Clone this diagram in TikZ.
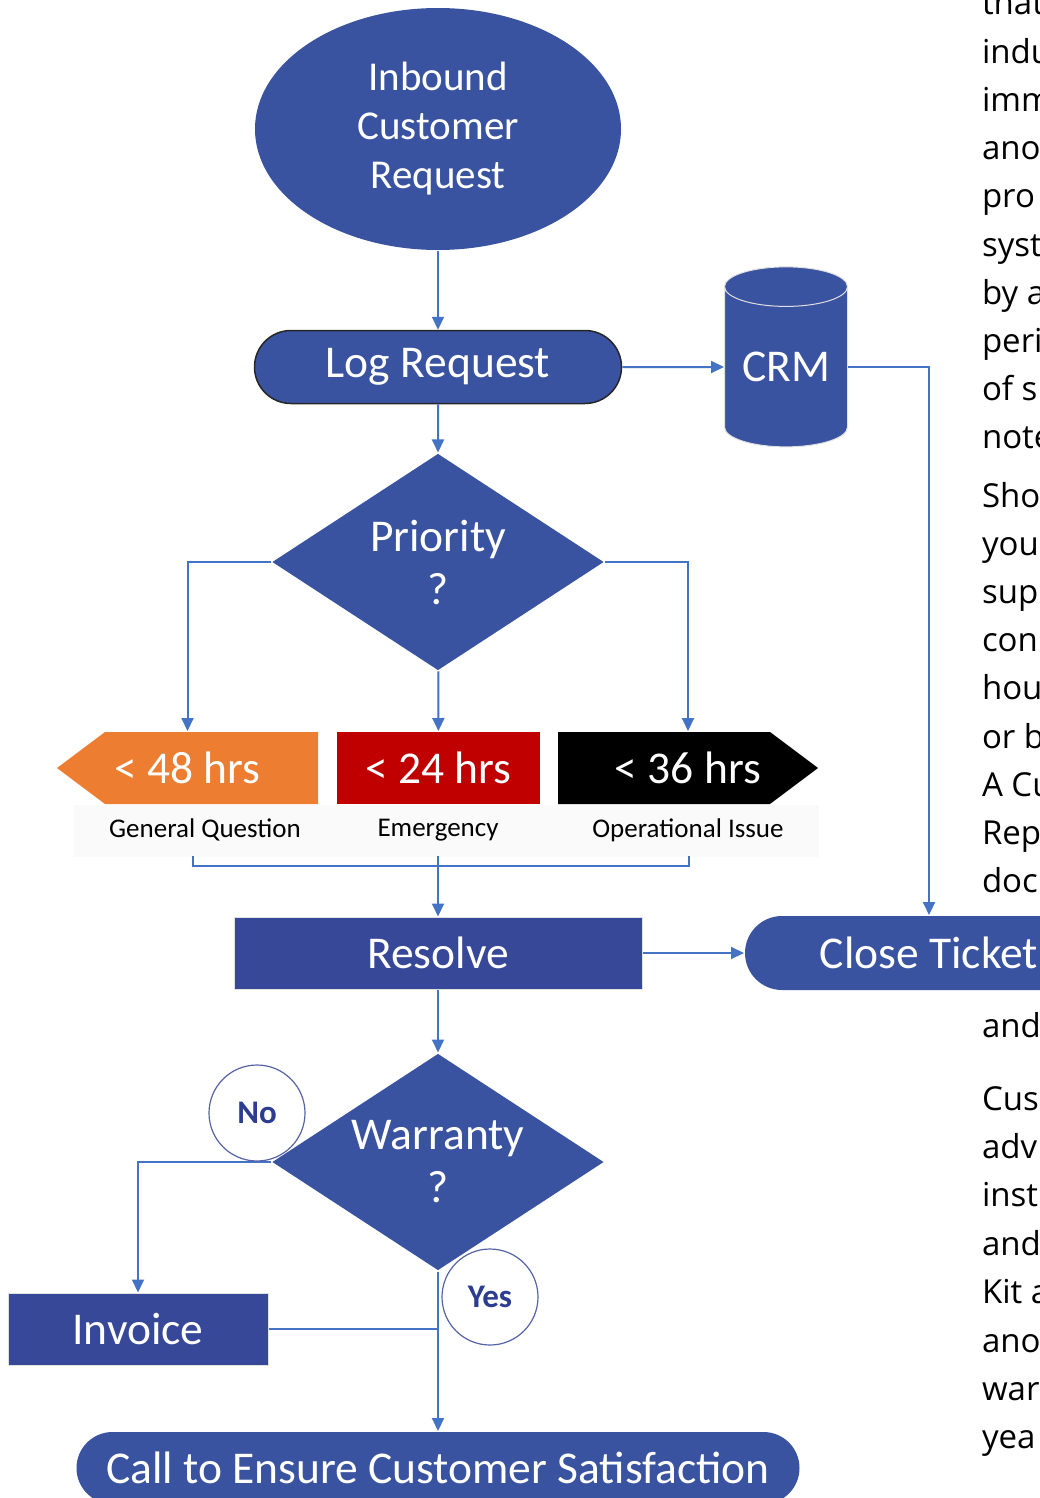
\documentclass[tikz,border=0pt]{standalone}
\usepackage{fontspec}
\setmainfont{Carlito}
\newfontfamily\sidefont{Open Sans}
\usepackage{tikz}
\usetikzlibrary{arrows.meta,shapes.geometric,shapes.misc}
\usepackage{xcolor}
\definecolor{flowblue}{RGB}{58,83,160}
\definecolor{boxblue}{RGB}{56,72,152}
\definecolor{linkblue}{RGB}{68,114,196}
\definecolor{tagorange}{RGB}{237,125,49}
\definecolor{tagred}{RGB}{192,0,0}
\definecolor{ynblue}{RGB}{44,60,145}

\begin{document}
\begin{tikzpicture}[x=1pt,y=-1pt,>={Triangle[length=13pt,width=12pt]},line width=2pt]
\tikzstyle{flow}=[fill=flowblue,text=white,inner sep=0pt,font=\fontsize{45.5}{53}\selectfont,align=center]
\tikzstyle{term}=[flow,rounded rectangle,minimum height=73pt]
\tikzstyle{proc}=[flow,rectangle,fill=boxblue,draw=black!12,line width=1pt,minimum height=72pt]
\tikzstyle{decide}=[flow,diamond,aspect=1.53,minimum width=332pt,minimum height=217pt]
\tikzstyle{tag}=[rectangle,inner sep=0pt,text=white,minimum height=72pt,font=\fontsize{45.5}{53}\selectfont]
\tikzstyle{tagleft}=[tag,path picture={\fill[tagorange] (path picture bounding box.west)
    -- ([xshift=48pt]path picture bounding box.north west) -- (path picture bounding box.north east)
    -- (path picture bounding box.south east) -- ([xshift=48pt]path picture bounding box.south west) -- cycle;}]
\tikzstyle{tagright}=[tag,path picture={\fill[black] (path picture bounding box.north west)
    -- ([xshift=-48pt]path picture bounding box.north east) -- (path picture bounding box.east)
    -- ([xshift=-48pt]path picture bounding box.south east) -- (path picture bounding box.south west) -- cycle;}]
\tikzstyle{cat}=[inner sep=0pt,font=\fontsize{27}{32}\selectfont]
\tikzstyle{yn}=[circle,draw=ynblue!80,line width=1.2pt,fill=white,minimum size=96pt,inner sep=0pt,text=ynblue,font=\fontsize{33}{40}\selectfont\bfseries]
\tikzstyle{link}=[draw=linkblue]
\tikzstyle{side}=[anchor=base west,inner sep=0pt,font=\sidefont\fontsize{33}{48}\selectfont]
  \useasboundingbox (0,0) rectangle (1040,1498);
  \clip (0,0) rectangle (1040,1498);
  % text of the page beside the chart
  \foreach \w [count=\i from 0] in {that,indu,imm,ano,pro,syst,by a,peri,of s,note}
    \node[side] (pa\i) at (981,15+48.2*\i) {\w};
  \foreach \w [count=\i from 0] in {Sho,you,sup,con,hou,or b,A Cu,Rep,doc}
    \node[side] (pb\i) at (981,507+48.2*\i) {\w};
  \node[side] (pc) at (981,1037) {and};
  \foreach \w [count=\i from 0] in {Cus,adv,inst,and,Kit a,ano,war,yea}
    \node[side] (pd\i) at (981,1110+48.4*\i) {\w};
  % chart
  \node[flow,ellipse,minimum width=366pt,minimum height=242pt,font=\fontsize{41}{49}\selectfont] (in-req) at (438,129) {Inbound\\Customer\\Request};
  \node[term,draw=black!85,line width=1.5pt,minimum width=367pt,below of=in-req,node distance=238pt] (log) {Log Request};
  \node[flow,cylinder,shape border rotate=90,aspect=0.45,draw=black!12,line width=1pt,minimum width=123pt,minimum height=180pt] (crm) at (786,367) {CRM};
  \node[decide,below of=log,node distance=195pt] (prio) {Priority\\?};
  \node[fill=black!2,minimum width=745pt,minimum height=52pt,inner sep=0pt] (cat-strip) at (446,831) {};
  \node[tagleft,minimum width=261pt] (lt48) at (187.5,768) {< 48 hrs};
  \node[tag,fill=tagred,minimum width=203pt] (lt24) at (438.5,768) {< 24 hrs};
  \node[tagright,minimum width=260pt] (lt36) at (688,768) {< 36 hrs};
  \node[cat] (gq) at (205,830) {General Question};
  \node[cat] (emg) at (438,830) {Emergency};
  \node[cat] (op) at (688,830) {Operational Issue};
  \coordinate (brk-l) at (193,856);
  \coordinate (brk-m) at (438,856);
  \coordinate (brk-r) at (689,856);
  \node[proc,minimum width=408pt] (resolve) at (438,953) {Resolve};
  \node[term,minimum width=368pt,minimum height=74pt] (close) at (929,953) {Close Ticket};
  \node[decide] (warr) at (438,1162) {Warranty\\?};
  \node[proc,minimum width=260pt] (invoice) at (138,1329) {Invoice};
  \node[term,minimum width=723pt,minimum height=72pt] (call) at (438,1468) {Call to Ensure Customer Satisfaction};
  % connectors
  \draw[link,->] (in-req) -- (log);
  \draw[link,->] (log) -- (crm);
  \draw[link,->] (crm) -| (close);
  \draw[link,->] (log) -- (prio);
  \draw[link,->] (prio) -| (lt48);
  \draw[link,->] (prio) -- (lt24);
  \draw[link,->] (prio) -| (lt36);
  \draw[link] (brk-l) -- ++(0,10) -| (brk-r);
  \draw[link,->] (brk-m) -- (resolve);
  \draw[link,->] (resolve) -- (close);
  \draw[link,->] (resolve) -- (warr);
  \draw[link,->] (warr) -| (invoice);
  \draw[link] (invoice) -- (invoice -| warr);
  \draw[link,->] (warr) -- (call);
  \node[yn] (no) at (257,1113) {No};
  \node[yn] (yes) at (490,1297) {Yes};
\end{tikzpicture}
\end{document}
